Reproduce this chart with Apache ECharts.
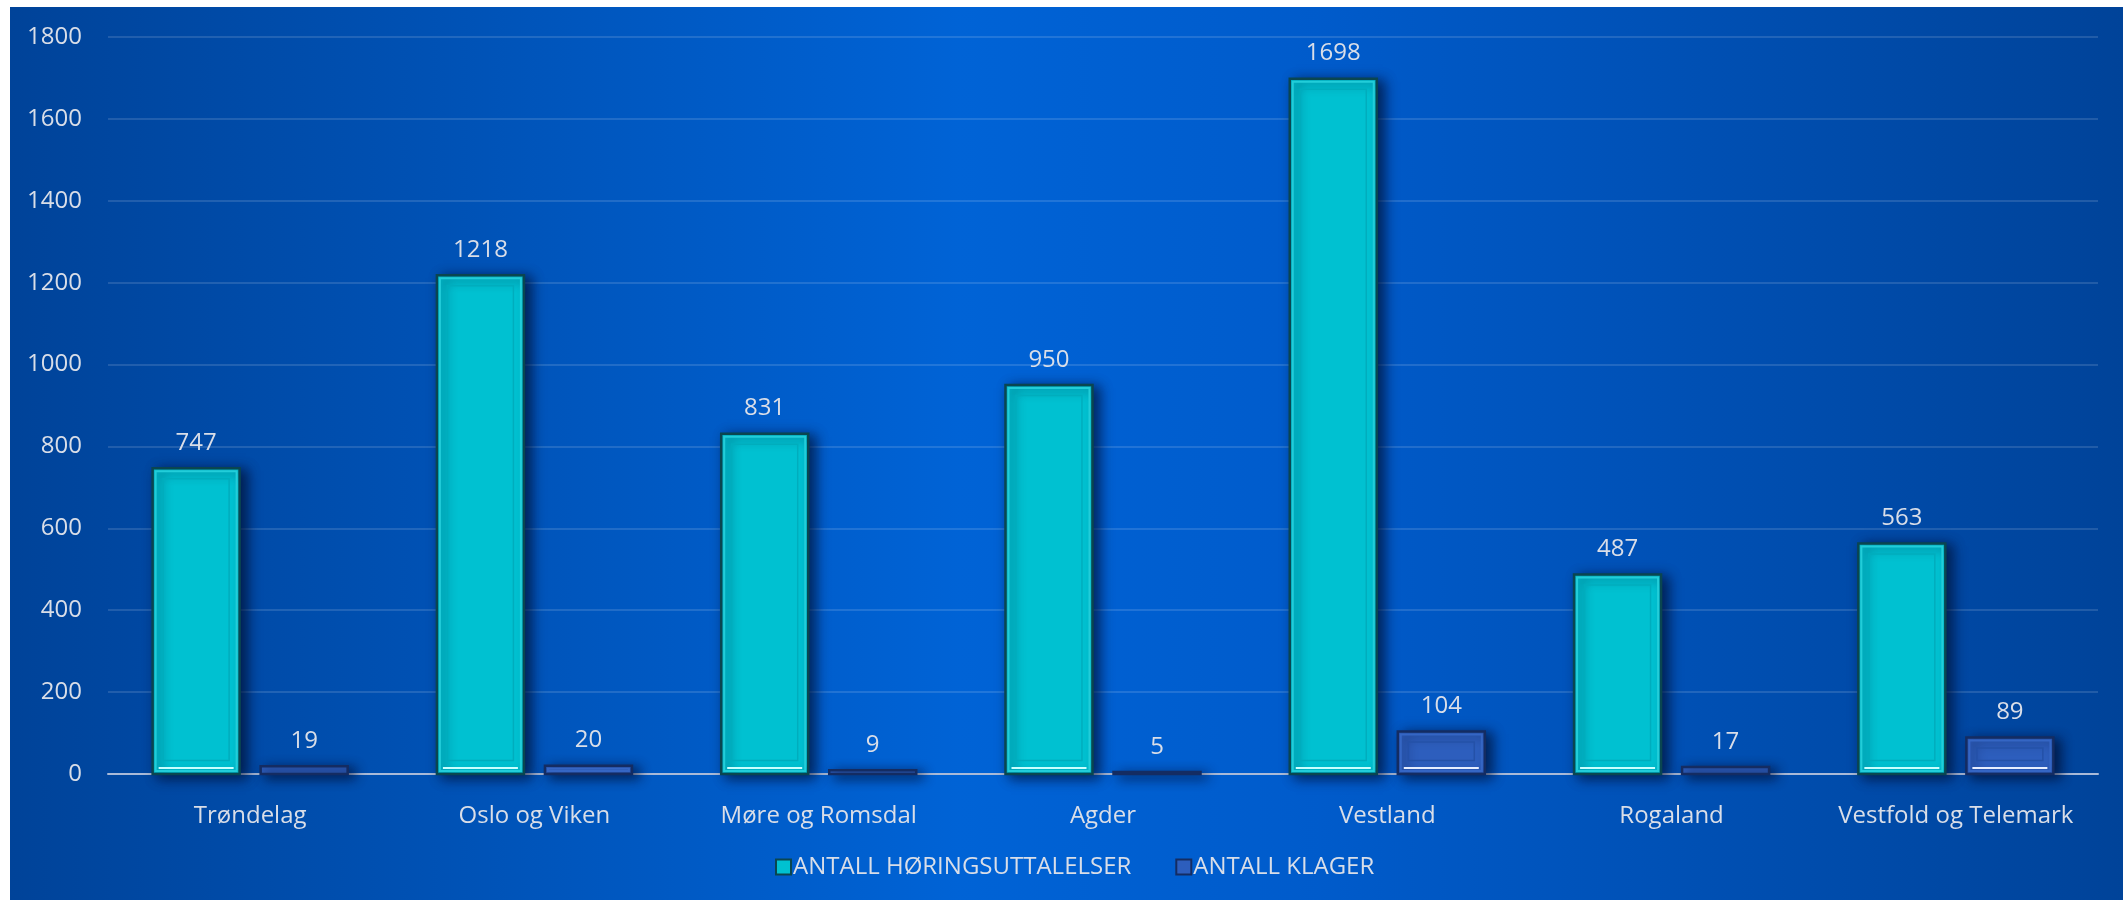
<!DOCTYPE html>
<html>
<head>
<meta charset="utf-8">
<script src="https://cdn.jsdelivr.net/npm/echarts@6/dist/echarts.min.js"></script>
<style>
html,body{margin:0;padding:0;background:#ffffff;width:2123px;height:900px;overflow:hidden;}
#chart{position:absolute;left:10px;top:7px;width:2113px;height:893px;}
</style>
</head>
<body>
<div id="chart"></div>
<script>
const categories = ['Trøndelag', 'Oslo og Viken', 'Møre og Romsdal', 'Agder', 'Vestland', 'Rogaland', 'Vestfold og Telemark'];
const horingsuttalelser = [747, 1218, 831, 950, 1698, 487, 563];
const klager = [19, 20, 9, 5, 104, 17, 89];
const seriesNames = ['ANTALL HØRINGSUTTALELSER', 'ANTALL KLAGER'];
const yTicks = [0, 200, 400, 600, 800, 1000, 1200, 1400, 1600, 1800];

const TEXT = '#d9dee8';
const FONT = 'Open Sans';

const styles = [
  { fill: '#00c1d1', stroke: '#0a4650', bevel: '#22cdd9', inner: '#00adbd', hl: '#c8ffff' },
  { fill: '#2d5ebd', stroke: '#142c62', bevel: '#3566c4', inner: '#2451a8', hl: '#e6eeff' }
];

function makeRender(si) {
  const st = styles[si];
  return function (params, api) {
    const cat = api.value(0), v = api.value(1);
    const base = api.coord([cat, 0]);
    const top = api.coord([cat, v]);
    const band = api.size([1, 0])[0];
    const bw = band * 0.306;
    const gap = band * 0.074;
    const cx = base[0] + (si === 0 ? -1 : 1) * (gap / 2 + bw / 2);
    const x = cx - bw / 2;
    const y = top[1];
    const h = Math.max(base[1] - top[1], 2);
    const children = [{
      type: 'rect',
      shape: { x: x, y: y, width: bw, height: h },
      style: {
        fill: st.fill, stroke: st.stroke, lineWidth: 2.5,
        shadowBlur: 12, shadowOffsetX: 6, shadowOffsetY: 3, shadowColor: 'rgba(0,10,40,0.7)'
      },
      textContent: {
        style: { text: String(v), fill: TEXT, font: '24px "' + FONT + '"' }
      },
      textConfig: { position: 'top', distance: 12 }
    }];
    if (h > 8) {
      children.push({
        type: 'rect',
        shape: { x: x + 3, y: y + 3, width: bw - 6, height: h - 6 },
        style: { fill: 'none', stroke: st.bevel, lineWidth: 2 },
        silent: true
      });
    }
    if (h > 28) {
      children.push({
        type: 'rect',
        shape: { x: x + 10.5, y: y + 10.5, width: bw - 21, height: h - 24 },
        style: { fill: 'none', stroke: st.inner, lineWidth: 1.5 },
        silent: true
      });
    }
    if (h > 12) {
      children.push({
        type: 'line',
        shape: { x1: x + 6, y1: base[1] - 6, x2: x + bw - 6, y2: base[1] - 6 },
        style: { stroke: st.hl, lineWidth: 2 },
        silent: true
      });
    }
    return { type: 'group', children: children };
  };
}

const seriesData = [horingsuttalelser, klager].map(arr => arr.map((v, i) => [i, v]));

const chart = echarts.init(document.getElementById('chart'));
chart.setOption({
  backgroundColor: {
    type: 'linear', x: 0, y: 0, x2: 1, y2: 0,
    colorStops: [
      { offset: 0, color: '#004399' },
      { offset: 0.45, color: '#0063d6' },
      { offset: 0.62, color: '#005bcb' },
      { offset: 1, color: '#004399' }
    ]
  },
  textStyle: { fontFamily: FONT },
  grid: { left: 98, right: 25, top: 30, bottom: 126, containLabel: false },
  legend: {
    left: 760, top: 843,
    icon: 'rect', itemWidth: 15, itemHeight: 15, itemGap: 44,
    textStyle: { color: TEXT, fontSize: 24, fontFamily: FONT, padding: [0, 0, 0, -3] },
    data: seriesNames
  },
  xAxis: {
    type: 'category',
    data: categories,
    axisLine: { show: true, lineStyle: { color: '#a9bad8', width: 2 } },
    axisTick: { show: false },
    axisLabel: { color: TEXT, fontSize: 24, fontFamily: FONT, margin: 30, interval: 0 },
    splitLine: { show: false }
  },
  yAxis: {
    type: 'value',
    min: yTicks[0], max: yTicks[yTicks.length - 1], interval: yTicks[1] - yTicks[0],
    axisLine: { show: false },
    axisTick: { show: false },
    axisLabel: { color: TEXT, fontSize: 24, fontFamily: FONT, margin: 26, formatter: v => String(v) },
    splitLine: { lineStyle: { color: 'rgba(255,255,255,0.13)', width: 2 } }
  },
  series: [0, 1].map(si => ({
    name: seriesNames[si],
    type: 'custom',
    renderItem: makeRender(si),
    encode: { x: 0, y: 1 },
    itemStyle: { color: styles[si].fill, borderColor: styles[si].stroke, borderWidth: 1.5 },
    data: seriesData[si],
    z: 3
  }))
});
</script>
</body>
</html>
